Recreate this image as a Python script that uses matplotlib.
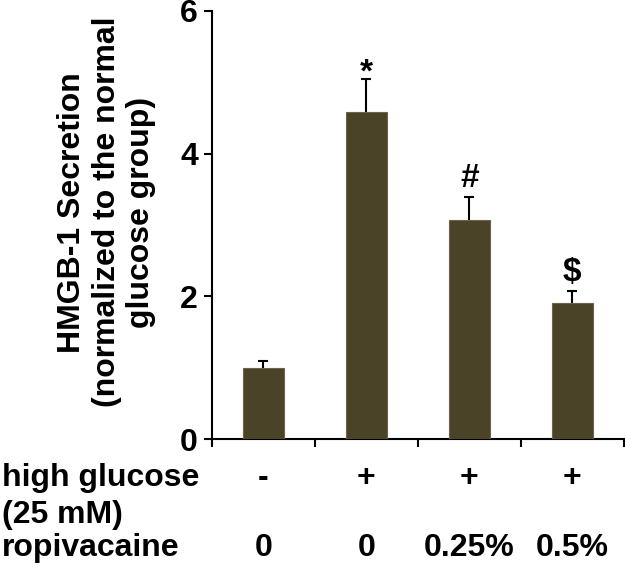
import matplotlib
matplotlib.use('Agg')
import matplotlib.pyplot as plt
import matplotlib.transforms as mtransforms

plt.rcParams['font.family'] = ['Liberation Sans', 'DejaVu Sans']
plt.rcParams['font.weight'] = 'bold'

# data
secretion = [1.0, 4.58, 3.07, 1.90]
sem = [0.10, 0.47, 0.32, 0.18]
marks = ['', '*', '#', '$']
glucose = ['-', '+', '+', '+']
ropivacaine = ['0', '0', '0.25%', '0.5%']

bar_color = '#4a4328'
fs = 23

fig = plt.figure(figsize=(6.25, 5.67), dpi=100)
ax = fig.add_axes([0.339, 0.2257, 0.659, 0.7549])

x = [i + 0.5 for i in range(len(secretion))]
# bars drawn over the symmetric error bars so only the upper half shows
ax.errorbar(x, secretion, yerr=sem, fmt='none', ecolor='black',
            elinewidth=1.5, capsize=3.5, capthick=1.5, zorder=2)
ax.bar(x, secretion, width=0.4, color=bar_color, edgecolor='#6b6448',
       linewidth=0.8, zorder=3)

for xi, v, e, m in zip(x, secretion, sem, marks):
    if m:
        # the asterisk glyph sits high in the font, pull it down a little
        dy = -7 if m == '*' else 2
        ax.annotate(m, (xi, v + e), xytext=(0, dy), textcoords='offset points',
                    ha='center', va='bottom', fontsize=24, fontweight='bold')

ax.set_xlim(0, 4)
ax.set_ylim(0, 6)
ax.set_yticks([0, 2, 4, 6])
ax.set_xticks([0, 1, 2, 3, 4])
ax.set_xticklabels([])
ax.tick_params(axis='y', labelsize=fs, length=6, width=1.5, direction='out', pad=4)
ax.tick_params(axis='x', length=6, width=1.5, direction='out')
for lab in ax.get_yticklabels():
    lab.set_fontweight('bold')
ax.spines['top'].set_visible(False)
ax.spines['right'].set_visible(False)
ax.spines['left'].set_linewidth(1.5)
ax.spines['bottom'].set_linewidth(1.5)

ax.set_ylabel('HMGB-1 Secretion\n(normalized to the normal\nglucose group)',
              fontsize=fs, fontweight='bold', linespacing=1.2)
ax.yaxis.set_label_coords(-0.135, 0.53)

# condition table under the axis
trans = mtransforms.blended_transform_factory(ax.transData, fig.transFigure)
for xi, g, r in zip(x, glucose, ropivacaine):
    ax.text(xi, 1 - 478 / 567, g, transform=trans, ha='center', va='center',
            fontsize=fs, fontweight='bold')
    ax.text(xi, 1 - 548 / 567, r, transform=trans, ha='center', va='center',
            fontsize=fs, fontweight='bold')
fig.text(0.003, 1 - 478 / 567, 'high glucose', ha='left', va='center', fontsize=fs, fontweight='bold')
fig.text(0.003, 1 - 515 / 567, '(25 mM)', ha='left', va='center', fontsize=fs, fontweight='bold')
fig.text(0.003, 1 - 548 / 567, 'ropivacaine', ha='left', va='center', fontsize=fs, fontweight='bold')

fig.savefig('out.png', dpi=100)
